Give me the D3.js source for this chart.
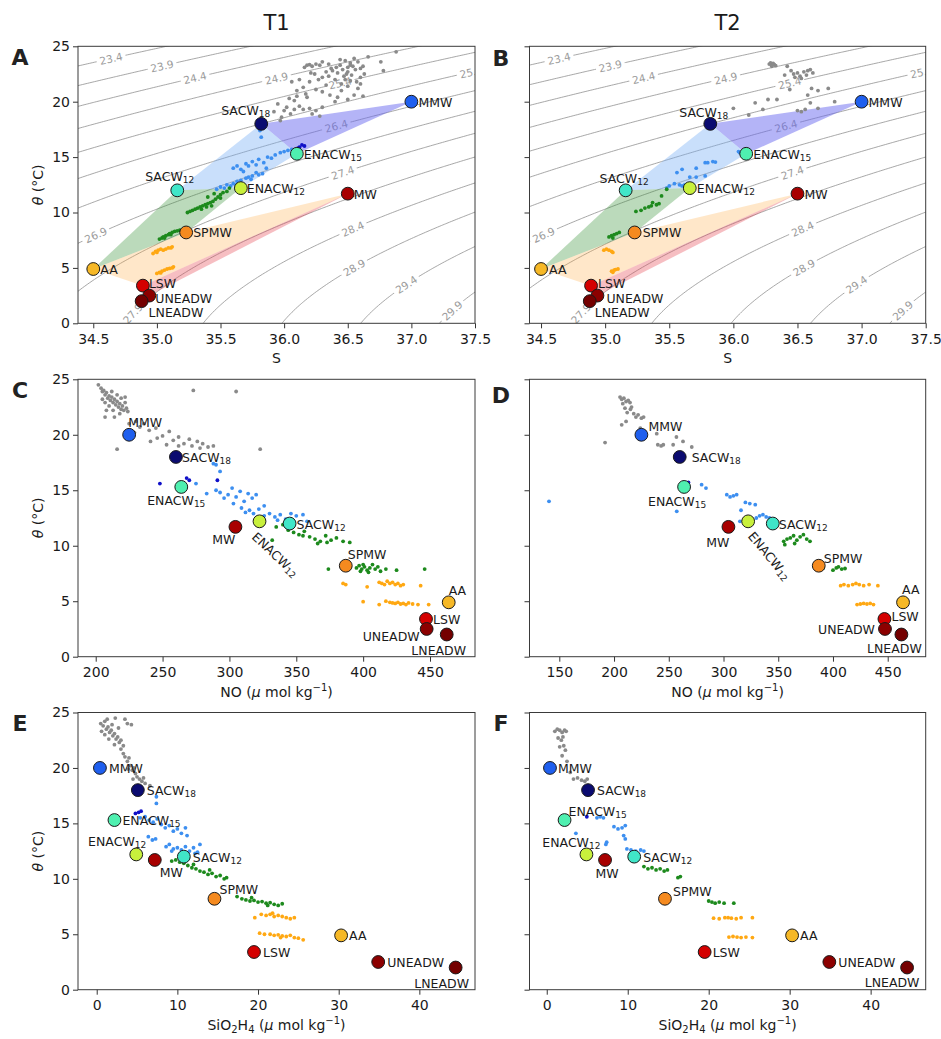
<!DOCTYPE html>
<html>
<head>
<meta charset="utf-8">
<script src="https://cdn.jsdelivr.net/npm/d3@7"></script>
<style>
  body { margin: 0; background: #fff; }
  text { font-family: "DejaVu Sans", sans-serif; }
</style>
</head>
<body>
<svg id="fig" width="941" height="1039"></svg>
<script>
// ---------------------------------------------------------------------------
// Source water masses (end-members)
// ---------------------------------------------------------------------------
const waterMasses = ["MMW", "SACW18", "ENACW15", "SACW12", "ENACW12", "MW",
                     "SPMW", "AA", "LSW", "UNEADW", "LNEADW"];
const wmTheta    = [20.0, 18.0, 15.3, 12.0, 12.2, 11.7, 8.2, 4.9, 3.4, 2.5, 2.0];
const wmSalinity = [37.00, 35.82, 36.10, 35.16, 35.66, 36.50, 35.23, 34.50, 34.89, 34.94, 34.88];
const wmNO       = [225, 260, 264, 345, 322.5, 304.5, 387, 464, 447, 447.5, 462.5];
const wmSilicate = [0.4, 5.1, 2.2, 10.8, 4.9, 7.2, 14.6, 30.3, 19.5, 34.9, 44.5];
const wmColors   = ["#1f5fee", "#0b0b70", "#4ff0b0", "#40e6c8", "#c8f03c", "#a80000",
                    "#f58a1f", "#f6b826", "#d40000", "#8c0000", "#740000"];

// mixing polygons in the theta-S plane (vertex = water mass)
const mixingPolygons = [
  ["SACW18", "MMW", "ENACW15"],
  ["SACW12", "SACW18", "ENACW15", "ENACW12"],
  ["AA", "SACW12", "ENACW12", "SPMW"],
  ["AA", "SPMW", "MW", "LSW"],
  ["LSW", "MW", "UNEADW"]
];
const mixingFills = ["rgba(105,105,240,0.5)", "rgba(120,175,245,0.4)", "rgba(60,150,60,0.35)",
                     "rgba(255,170,60,0.28)", "rgba(230,70,80,0.35)"];

// isopycnals (sigma-theta) and the salinity where each label sits
const isoLevels  = [23.4, 23.9, 24.4, 24.9, 25.4, 25.9, 26.4, 26.9, 27.4, 27.9, 28.4, 28.9, 29.4, 29.9];
const isoLabelS  = [34.64, 35.04, 35.30, 35.94, 36.44, 37.47, 36.41, 34.52, 36.46, 34.81, 36.54, 36.55, 36.96, 37.32];

// tick values
const salTicks   = [34.5, 35.0, 35.5, 36.0, 36.5, 37.0, 37.5];
const noTicksT1  = [200, 250, 300, 350, 400, 450];
const noTicksT2  = [150, 200, 250, 300, 350, 400, 450];
const siTicks    = [0, 10, 20, 30, 40];
const thetaTicks = [0, 5, 10, 15, 20, 25];

// sample groups
const sampleGroups = ["surface", "central", "enacw", "intermediate", "deep"];
const sampleColors = ["#8a8a8a", "#3d8ff0", "#1010c8", "#1d8a1d", "#ffa812"];

// ---------------------------------------------------------------------------
// Samples, period T1
// ---------------------------------------------------------------------------
const T1_SAL = {
  surface: [[36.66,24.05],[36.76,23.6],[36.88,24.5],[36.78,22.8],[36.62,23.2],[36.58,23.6],[36.55,23.9],
    [36.52,23.5],[36.5,23.1],[36.48,23.7],[36.46,22.9],[36.44,23.3],[36.42,22.6],[36.47,22.3],[36.5,22.7],
    [36.53,22.4],[36.56,22.9],[36.6,22.2],[36.57,21.8],[36.52,21.9],[36.45,21.6],[36.4,22.0],[36.38,22.8],
    [36.35,23.4],[36.3,23.6],[36.28,23.3],[36.25,23.4],[36.22,23.2],[36.2,23.35],[36.18,23.3],[36.16,23.1],
    [36.24,22.5],[36.3,22.2],[36.2,21.8],[36.15,21.3],[36.1,21.0],[36.25,21.1],[36.33,21.5],[36.36,20.6],
    [36.42,20.4],[36.5,20.2],[36.55,20.6],[36.58,21.2],[36.62,20.5],[36.4,20.0],[36.3,20.9],[36.18,20.4],
    [36.08,20.1],[36.12,19.6],[36.02,19.5],[35.95,19.8],[35.92,19.1],[35.97,18.3],[36.0,19.2],[36.08,19.3],
    [36.15,19.3],[36.2,19.4],[36.25,19.2],[36.28,18.7],[36.22,18.9],[36.05,18.9],[35.98,18.6],[36.3,19.5],
    [36.45,21.0],[36.35,22.3],[36.48,22.0],[36.54,23.2],[36.6,23.0],[36.63,22.5],[36.44,23.8],[36.37,23.0],
    [36.33,22.7],[36.27,22.0],[36.21,22.6],[36.12,22.0],[36.06,21.8],[36.17,20.7],[36.1,20.5],[36.04,20.3],
    [36.5,21.4],[36.6,21.6],[36.52,23.3],[36.49,22.5],[36.41,23.1]],
  central: [[35.47,12.1],[35.5,12.3],[35.53,12.2],[35.55,12.5],[35.58,12.4],[35.6,12.6],[35.63,12.8],
    [35.62,12.5],[35.66,12.9],[35.7,13.1],[35.72,13.2],[35.75,13.3],[35.78,13.6],[35.8,13.4],[35.83,13.5],
    [35.6,14.0],[35.63,14.2],[35.66,13.9],[35.7,14.4],[35.72,14.2],[35.75,14.6],[35.78,14.3],[35.8,14.8],
    [35.84,14.5],[35.87,15.0],[35.9,14.9],[35.93,15.2],[35.97,15.4],[36.0,15.5],[36.03,15.6],[36.06,15.7],
    [35.81,17.4],[35.82,16.8],[35.83,17.7],[35.68,13.7],[35.74,13.0],[35.86,14.0]],
  enacw: [[36.12,15.9],[36.14,16.1],[36.16,16.0],[36.11,15.8]],
  intermediate: [[35.02,7.6],[35.04,7.7],[35.05,7.8],[35.07,7.9],[35.09,8.0],[35.1,8.1],[35.12,8.2],
    [35.14,8.3],[35.16,8.35],[35.18,8.4],[35.06,7.7],[35.11,8.0],[35.24,10.0],[35.26,10.1],[35.28,10.2],
    [35.3,10.3],[35.32,10.4],[35.34,10.5],[35.36,10.6],[35.38,10.7],[35.4,10.8],[35.42,10.9],[35.44,11.0],
    [35.46,11.2],[35.35,10.3],[35.39,10.5],[35.43,10.6],[35.48,11.4],[35.5,11.6],[35.52,11.8],[35.55,11.9],
    [35.57,12.2],[35.4,11.4],[35.5,11.3],[35.45,11.7]],
  deep: [[34.97,6.3],[34.99,6.5],[35.01,6.6],[35.03,6.7],[35.05,6.6],[35.07,6.7],[35.09,6.8],[35.11,6.8],
    [35.12,6.9],[35.0,6.4],[35.0,4.5],[35.02,4.6],[35.04,4.7],[35.06,4.8],[35.08,4.9],[35.1,4.95],
    [35.12,5.0],[35.13,5.1],[35.03,4.55]]
};

const T1_NO = {
  surface: [[202,24.5],[204,24.2],[205,23.9],[206,24.0],[207,23.6],[208,23.8],[209,23.3],[210,23.5],
    [211,23.1],[212,23.4],[213,22.9],[214,23.2],[215,22.7],[216,23.0],[217,22.5],[218,22.8],[219,22.3],
    [220,22.6],[221,22.2],[222,22.9],[223,22.4],[224,22.1],[210,22.6],[213,22.2],[207,22.9],[216,23.6],
    [219,23.3],[205,23.2],[208,22.2],[212,23.9],[218,21.9],[222,23.4],[207,21.6],[214,21.6],[225,21.0],
    [230,21.2],[233,20.7],[236,21.0],[240,20.4],[245,20.6],[246,19.7],[250,19.9],[255,20.3],[258,19.5],
    [262,19.8],[266,19.2],[270,19.6],[272,19.0],[276,19.4],[280,19.2],[284,18.9],[288,19.0],[253,19.1],
    [262,19.0],[278,18.8],[216,18.7],[273,24.0],[305,23.9],[323,18.7],[241,19.4],[229,20.2]],
  central: [[288,17.4],[290,17.3],[293,16.7],[275,15.6],[283,14.7],[290,15.0],[293,14.8],[296,14.3],
    [299,14.6],[302,15.2],[305,14.4],[308,14.9],[311,14.0],[314,14.7],[317,14.3],[320,14.6],[303,13.8],
    [309,13.4],[315,13.2],[318,12.9],[322,13.3],[326,13.6],[330,12.9],[334,12.6],[338,12.8],[342,12.4],
    [346,12.9],[350,12.7],[355,12.8],[358,12.2],[312,13.0],[326,12.7],[336,12.3]],
  enacw: [[248,15.6],[268,16.1],[270,15.9],[291,15.9]],
  intermediate: [[335,11.7],[340,11.9],[344,11.4],[348,11.2],[352,11.0],[356,11.3],[360,10.8],[364,10.6],
    [368,10.4],[372,10.9],[376,10.5],[380,10.7],[385,10.4],[390,10.3],[332,10.5],[355,10.9],[366,10.2],
    [373,10.3],[395,8.0],[397,8.2],[399,7.9],[401,8.1],[403,7.8],[405,8.0],[407,8.3],[409,7.9],[411,8.1],
    [413,7.7],[398,7.7],[404,7.6],[400,8.3],[374,7.9],[417,7.9],[425,7.8],[446,7.9]],
  deep: [[385,6.6],[387,6.5],[403,6.3],[412,6.7],[414,6.6],[416,6.5],[418,6.8],[420,6.6],[422,6.7],
    [424,6.5],[426,6.6],[428,6.4],[430,6.5],[443,6.4],[400,4.96],[412,4.7],[417,5.0],[420,4.9],[422,4.85],
    [424,4.8],[426,4.9],[428,4.75],[430,4.8],[432,4.7],[434,4.85],[437,4.75],[441,4.7],[449,4.7]]
};

const T1_SI = {
  surface: [[0.5,24.0],[0.8,23.8],[1.0,24.2],[1.2,23.5],[1.4,23.7],[1.6,23.2],[1.8,23.4],[2.0,22.9],
    [2.2,23.1],[2.4,22.6],[2.6,22.8],[2.8,22.3],[3.0,22.5],[1.0,23.0],[1.5,22.6],[0.6,23.3],[2.2,22.1],
    [1.3,24.4],[3.3,22.0],[1.9,23.9],[2.7,23.6],[3.5,24.4],[2.3,24.5],[4.3,23.9],[3.8,24.0],[3.0,21.7],
    [3.3,21.3],[3.5,21.0],[3.8,20.6],[4.0,20.9],[4.2,20.2],[4.4,19.8],[4.6,20.0],[4.8,19.5],[5.0,19.2],
    [5.3,19.0],[5.6,18.8],[6.0,18.6],[6.6,18.4],[3.9,19.9],[4.5,19.0],[5.8,19.1]],
  central: [[7.4,17.4],[7.4,16.8],[5.4,15.5],[6.0,15.6],[6.5,15.3],[7.0,15.1],[7.5,15.4],[8.0,14.9],
    [8.5,14.6],[9.0,14.8],[9.5,14.3],[10.0,14.5],[10.5,14.1],[11.0,14.6],[11.2,13.9],[6.4,13.8],[6.9,13.5],
    [7.3,13.6],[8.6,12.9],[9.0,13.1],[9.5,12.7],[10.0,12.8],[10.5,12.6],[11.0,12.9],[11.5,12.5],[12.0,12.8],
    [12.5,12.4],[12.8,13.1],[12.2,12.3],[9.3,12.5]],
  enacw: [[5.2,16.0],[4.8,15.9],[5.5,16.1]],
  intermediate: [[9.3,11.6],[9.8,11.7],[10.3,11.5],[10.8,11.4],[11.3,11.2],[11.8,11.0],[12.3,10.9],
    [12.8,10.7],[13.3,10.6],[13.8,10.4],[14.3,10.5],[14.8,10.2],[15.3,10.3],[15.8,10.0],[16.1,10.1],
    [12.0,11.3],[14.0,10.8],[17.4,8.4],[18.0,8.2],[18.5,8.1],[19.0,8.0],[19.5,8.05],[20.0,7.9],[20.5,7.95],
    [21.0,7.8],[21.5,7.85],[22.0,7.7],[22.5,7.6],[23.0,7.75],[19.2,8.3],[21.2,7.6]],
  deep: [[19.6,6.5],[20.4,6.8],[21.0,6.7],[21.5,6.8],[22.0,6.6],[22.5,6.7],[23.0,6.6],[23.5,6.5],
    [24.0,6.4],[24.5,6.5],[21.8,6.9],[20.2,5.1],[20.8,5.0],[21.5,5.0],[22.0,4.9],[22.5,4.95],[23.0,4.85],
    [23.5,4.8],[24.0,4.9],[24.5,4.7],[25.0,4.65],[25.6,4.5],[22.8,4.7]]
};

// ---------------------------------------------------------------------------
// Samples, period T2
// ---------------------------------------------------------------------------
const T2_SAL = {
  surface: [[36.28,23.4],[36.29,23.5],[36.3,23.3],[36.31,23.45],[36.32,23.35],[36.33,23.25],[36.3,23.2],
    [36.42,23.2],[36.45,22.8],[36.47,22.5],[36.5,22.6],[36.52,22.3],[36.55,22.7],[36.57,22.4],[36.6,22.9],
    [36.62,22.6],[36.48,22.2],[36.53,22.1],[36.44,21.1],[36.61,21.2],[36.66,21.0],[36.74,21.2],[36.58,20.6],
    [36.6,19.9],[36.79,20.0],[36.66,19.4],[36.5,19.2],[36.53,19.1],[36.56,19.3],[36.0,19.4],[36.12,18.8],
    [36.17,19.9],[36.23,19.3],[36.27,20.2],[36.34,20.2],[36.4,22.4],[36.58,22.8]],
  central: [[35.5,12.4],[35.54,12.6],[35.58,12.5],[35.6,12.4],[35.62,12.5],[35.56,13.6],[35.6,13.9],
    [35.71,14.0],[35.71,13.2],[35.78,14.5],[35.8,14.5],[35.84,14.6],[35.86,14.55],[35.78,13.3],[35.66,13.2],
    [36.05,15.4],[36.04,15.5],[35.48,12.2]],
  enacw: [],
  intermediate: [[35.48,12.1],[35.44,11.5],[35.24,10.1],[35.28,10.2],[35.31,10.4],[35.34,10.5],[35.37,10.9],
    [35.4,10.7],[35.42,10.8],[35.36,10.6],[35.03,7.8],[35.05,7.9],[35.07,8.0],[35.09,8.1],[35.11,8.2],
    [35.06,7.7]],
  deep: [[34.99,6.6],[35.01,6.7],[35.03,6.6],[35.05,6.5],[35.06,6.4],[35.05,4.7],[35.07,4.8],[35.08,4.85],
    [35.1,4.9],[35.06,4.6]]
};

const T2_NO = {
  surface: [[205.5,23.4],[207,23.2],[209,23.3],[211,23.0],[213,23.1],[214.6,22.9],[208,22.8],[210,22.4],
    [212,22.0],[215,22.3],[218,21.9],[220,21.6],[222,21.8],[225,21.5],[227,21.6],[207,20.9],[211,21.2],
    [191.8,19.3],[239,20.1],[240,19.1],[243,19.0],[245,19.1],[254,19.1],[257,19.8],[263,19.4],[271,18.9],
    [224,20.6],[216,22.5]],
  central: [[140.6,14.0],[257.3,13.1],[280,15.5],[284,15.2],[303,14.6],[306,14.4],[309,14.5],[312,14.6],
    [320,13.9],[324,13.8],[329,13.7],[316,13.2],[330,12.5],[333,12.7],[336,12.8],[339,12.6],[315,12.2],
    [342,12.5],[326,12.4]],
  enacw: [[268,15.7]],
  intermediate: [[355,10.4],[358,10.6],[361,10.7],[364,10.9],[367,10.5],[370,10.8],[373,11.0],[376,10.6],
    [379,10.4],[356,10.1],[365,10.2],[391,8.0],[400,7.8],[403,8.0],[405,8.1],[408,7.9],[411,7.95]],
  deep: [[407,6.4],[410,6.5],[414,6.4],[418,6.5],[421,6.6],[424,6.5],[428,6.4],[433,6.5],[441,6.4],
    [422,4.7],[425,4.75],[428,4.8],[431,4.75],[434,4.8],[437,4.7]]
};

const T2_SI = {
  surface: [[1.0,23.3],[1.3,23.5],[1.6,23.4],[1.9,23.2],[2.2,23.4],[2.4,23.3],[1.4,22.7],[1.8,22.5],
    [2.1,22.0],[2.3,21.6],[1.6,21.9],[1.9,21.1],[2.5,20.6],[2.9,19.6],[3.3,19.0],[3.8,19.1],[4.3,18.9],
    [5.0,19.0],[4.7,18.8],[2.0,22.8]],
  central: [[6.2,15.5],[6.6,15.6],[7.0,15.5],[8.3,14.7],[8.8,14.5],[9.3,14.6],[9.7,14.8],[3.6,14.1],
    [7.4,13.3],[7.3,13.1],[9.9,12.7],[10.4,12.6],[11.0,12.5],[11.6,12.6],[12.0,12.5],[9.5,13.9],[9.7,13.6]],
  enacw: [[4.95,15.6]],
  intermediate: [[12.0,11.1],[12.5,10.9],[13.0,11.0],[13.5,10.8],[14.0,10.9],[14.5,10.7],[14.9,10.8],
    [16.5,10.2],[16.2,10.1],[20.0,8.0],[20.4,7.9],[20.8,7.8],[21.3,7.9],[21.9,7.8],[23.1,7.8]],
  deep: [[20.6,6.45],[21.3,6.4],[22.0,6.5],[22.4,6.5],[22.8,6.45],[23.4,6.4],[24.0,6.5],[25.4,6.5],
    [22.5,4.75],[23.0,4.8],[23.5,4.75],[24.0,4.7],[24.6,4.75],[25.4,4.7]]
};

// ---------------------------------------------------------------------------
// Label placement for each panel: [dx, dy, anchor, rotation]
// ---------------------------------------------------------------------------
const labelsA = { MMW:[7,0,"start"], SACW18:[9,-14,"end"], ENACW15:[7,0,"start"], SACW12:[17,-14,"end"],
  ENACW12:[6,0,"start"], MW:[6,0,"start"], SPMW:[7,0,"start"], AA:[7,0,"start"], LSW:[6,-3,"start"],
  UNEADW:[6,2,"start"], LNEADW:[7,11,"start"] };
const labelsB = { MMW:[7,0,"start"], SACW18:[18,-12,"end"], ENACW15:[7,0,"start"], SACW12:[23,-12,"end"],
  ENACW12:[7,0,"start"], MW:[7,0,"start"], SPMW:[8,0,"start"], AA:[8,0,"start"], LSW:[7,-3,"start"],
  UNEADW:[9,2,"start"], LNEADW:[5,11,"start"] };
const labelsC = { MMW:[-1,-13,"start"], SACW18:[6,0,"start"], ENACW15:[-5,13,"middle"], SACW12:[7,0,"start"],
  ENACW12:[-5,13,"start",43], MW:[0,12,"end"], SPMW:[2,-12,"start"], AA:[0,-12,"start"], LSW:[7,0,"start"],
  UNEADW:[-7,7,"end"], LNEADW:[-8,15,"middle"] };
const labelsD = { MMW:[7,-9,"start"], SACW18:[12,0,"start"], ENACW15:[-7,14,"middle"], SACW12:[6,0,"start"],
  ENACW12:[3,12,"start",50], MW:[1,15,"end"], SPMW:[5,-8,"start"], AA:[-1,-13,"start"], LSW:[7,-3,"start"],
  UNEADW:[-10,0,"end"], LNEADW:[-7,13,"middle"] };
const labelsE = { MMW:[9,0,"start"], SACW18:[9,0,"start"], ENACW15:[8,0,"start"], SACW12:[9,0,"start"],
  ENACW12:[10,-13,"end"], MW:[5,12,"start"], SPMW:[5,-10,"start"], AA:[8,0,"start"], LSW:[9,0,"start"],
  UNEADW:[9,0,"start"], LNEADW:[-14,15,"middle"] };
const labelsF = { MMW:[8,0,"start"], SACW18:[9,0,"start"], ENACW15:[4,-9,"start"], SACW12:[9,0,"start"],
  ENACW12:[14,-12,"end"], MW:[2,13,"middle"], SPMW:[8,-8,"start"], AA:[8,0,"start"], LSW:[8,0,"start"],
  UNEADW:[9,0,"start"], LNEADW:[-15,14,"middle"] };

// ---------------------------------------------------------------------------
// Panel geometry
// ---------------------------------------------------------------------------
const cols = [{ left: 78, right: 475 }, { left: 529.5, right: 925.7 }];
const rows = [{ top: 46.3, bottom: 323.3 }, { top: 379.3, bottom: 656.7 }, { top: 712.5, bottom: 989.7 }];

const panels = [
  { key: "A", col: 0, row: 0, samples: T1_SAL, wm: wmSalinity, xDomain: [34.38, 37.5], ticks: salTicks,
    fmt: d3.format(".1f"), xLabel: "S", iso: true, labels: labelsA, letterY: 64.5 },
  { key: "B", col: 1, row: 0, samples: T2_SAL, wm: wmSalinity, xDomain: [34.41, 37.5], ticks: salTicks,
    fmt: d3.format(".1f"), xLabel: "S", iso: true, labels: labelsB, letterY: 65.5 },
  { key: "C", col: 0, row: 1, samples: T1_NO, wm: wmNO, xDomain: [186.76, 483.65], ticks: noTicksT1,
    fmt: d3.format("d"), xLabel: "NO", labels: labelsC, letterY: 397.5 },
  { key: "D", col: 1, row: 1, samples: T2_NO, wm: wmNO, xDomain: [122.78, 484.7], ticks: noTicksT2,
    fmt: d3.format("d"), xLabel: "NO", labels: labelsD, letterY: 403 },
  { key: "E", col: 0, row: 2, samples: T1_SI, wm: wmSilicate, xDomain: [-2.32, 46.9], ticks: siTicks,
    fmt: d3.format("d"), xLabel: "SI", labels: labelsE, letterY: 730.5 },
  { key: "F", col: 1, row: 2, samples: T2_SI, wm: wmSilicate, xDomain: [-2.13, 46.8], ticks: siTicks,
    fmt: d3.format("d"), xLabel: "SI", labels: labelsF, letterY: 730.5 }
];

// potential density anomaly at the surface (UNESCO EOS-80, p = 0)
function sigma0(S, T) {
  const rw = 999.842594 + 6.793952e-2 * T - 9.095290e-3 * T * T + 1.001685e-4 * T ** 3
           - 1.120083e-6 * T ** 4 + 6.536332e-9 * T ** 5;
  const A = 0.824493 - 4.0899e-3 * T + 7.6438e-5 * T * T - 8.2467e-7 * T ** 3 + 5.3875e-9 * T ** 4;
  const B = -5.72466e-3 + 1.0227e-4 * T - 1.6546e-6 * T * T;
  const C = 4.8314e-4;
  return rw + A * S + B * Math.pow(S, 1.5) + C * S * S - 1000;
}
// temperature on a given isopycnal at salinity S (sigma decreases with T here)
function thetaOnIsopycnal(S, level) {
  let lo = -3, hi = 35;
  for (let k = 0; k < 60; k++) {
    const mid = (lo + hi) / 2;
    if (sigma0(S, mid) > level) lo = mid; else hi = mid;
  }
  return (lo + hi) / 2;
}

const svg = d3.select("#fig");
const defs = svg.append("defs");
const TEXT = "#1a1a1a";

function drawIsopycnals(plot, x, y, key) {
  const S0 = 34.1, S1 = 37.8, T0 = -1.5, T1 = 26.5;
  const nx = 200, ny = 180;
  const dS = (S1 - S0) / (nx - 1), dT = (T1 - T0) / (ny - 1);
  const values = new Array(nx * ny);
  for (let j = 0; j < ny; j++)
    for (let i = 0; i < nx; i++) values[j * nx + i] = sigma0(S0 + i * dS, T0 + j * dT);
  const contours = d3.contours().size([nx, ny]).thresholds(isoLevels)(values);
  const toPx = p => [x(S0 + (p[0] - 0.5) * dS), y(T0 + (p[1] - 0.5) * dT)];

  // mask that opens gaps in the lines behind the inline labels
  const mask = defs.append("mask").attr("id", "gap" + key)
    .attr("maskUnits", "userSpaceOnUse").attr("x", 0).attr("y", 0).attr("width", 941).attr("height", 1039);
  mask.append("rect").attr("width", 941).attr("height", 1039).attr("fill", "white");

  const lines = plot.append("g").attr("mask", `url(#gap${key})`);
  contours.forEach(c => {
    let d = "";
    c.coordinates.forEach(poly => poly.forEach(ring => {
      ring.forEach((p, i) => { const q = toPx(p); d += (i ? "L" : "M") + q[0].toFixed(2) + "," + q[1].toFixed(2); });
    }));
    lines.append("path").attr("d", d).attr("fill", "none").attr("stroke", "#8a8a8a").attr("stroke-width", 0.75);
  });

  const kx = x(1) - x(0), ky = y(0) - y(1);
  isoLevels.forEach((lev, i) => {
    const S = isoLabelS[i];
    const T = thetaOnIsopycnal(S, lev);
    const h = 1e-3;
    const dSig = (sigma0(S + h, T) - sigma0(S - h, T)) / (2 * h);
    const dTig = (sigma0(S, T + h) - sigma0(S, T - h)) / (2 * h);
    let tx = dTig / ky, ty = dSig / kx;
    if (tx < 0) { tx = -tx; ty = -ty; }
    const ang = Math.atan2(ty, tx) * 180 / Math.PI;
    const px = x(S), py = y(T);
    const label = lev.toFixed(1);
    const w = label.length * 6.1 + 5;
    mask.append("rect").attr("x", -w / 2).attr("y", -6).attr("width", w).attr("height", 12)
      .attr("transform", `translate(${px},${py}) rotate(${ang})`).attr("fill", "black");
    plot.append("text").attr("transform", `translate(${px},${py}) rotate(${ang})`)
      .attr("text-anchor", "middle").attr("dominant-baseline", "central")
      .attr("font-size", 10.5).attr("fill", "#9a9a9a").text(label);
  });
}

function waterMassLabel(g, name, mx, my, spec) {
  const [dx, dy, anchor, rot] = spec;
  const m = name.match(/^([A-Z]+)(\d*)$/);
  const t = g.append("text").attr("font-size", 12.5).attr("fill", TEXT)
    .attr("text-anchor", anchor).attr("dominant-baseline", "central");
  if (rot) t.attr("transform", `translate(${mx + dx},${my + dy}) rotate(${rot})`);
  else t.attr("x", mx + dx).attr("y", my + dy);
  t.append("tspan").text(m[1]);
  if (m[2]) t.append("tspan").attr("font-size", 9).attr("dy", 4).text(m[2]);
}

function xAxisLabel(g, kind, cx, by) {
  const t = g.append("text").attr("x", cx).attr("y", by).attr("text-anchor", "middle")
    .attr("font-size", 14).attr("fill", TEXT);
  if (kind === "S") { t.text("S"); return; }
  if (kind === "NO") {
    t.append("tspan").text("NO (");
  } else {
    t.append("tspan").text("SiO");
    t.append("tspan").attr("font-size", 10).attr("dy", 3).text("2");
    t.append("tspan").attr("dy", -3).text("H");
    t.append("tspan").attr("font-size", 10).attr("dy", 3).text("4");
    t.append("tspan").attr("dy", -3).text(" (");
  }
  t.append("tspan").attr("font-style", "italic").text("μ");
  t.append("tspan").text(" mol kg");
  t.append("tspan").attr("font-size", 10).attr("dy", -6).text("−1");
  t.append("tspan").attr("dy", 6).text(")");
}

panels.forEach(p => {
  const { left, right } = cols[p.col];
  const { top, bottom } = rows[p.row];
  const x = d3.scaleLinear().domain(p.xDomain).range([left, right]);
  const y = d3.scaleLinear().domain([0, 25]).range([bottom, top]);
  const g = svg.append("g");

  defs.append("clipPath").attr("id", "clip" + p.key).append("rect")
    .attr("x", left).attr("y", top).attr("width", right - left).attr("height", bottom - top);
  const plot = g.append("g").attr("clip-path", `url(#clip${p.key})`);

  if (p.iso) {
    drawIsopycnals(plot, x, y, p.key);
    mixingPolygons.forEach((poly, i) => {
      const pts = poly.map(n => { const k = waterMasses.indexOf(n); return [x(p.wm[k]), y(wmTheta[k])]; });
      plot.append("path").attr("d", "M" + pts.join("L") + "Z").attr("fill", mixingFills[i]).attr("stroke", "none");
    });
  }

  // samples
  sampleGroups.forEach((grp, gi) => {
    plot.append("g").selectAll("circle").data(p.samples[grp]).join("circle")
      .attr("cx", d => x(d[0])).attr("cy", d => y(d[1])).attr("r", 1.9)
      .attr("fill", sampleColors[gi]);
  });

  // end-members
  const em = g.append("g");
  waterMasses.forEach((n, k) => {
    em.append("circle").attr("cx", x(p.wm[k])).attr("cy", y(wmTheta[k])).attr("r", 6.4)
      .attr("fill", wmColors[k]).attr("stroke", "#1a1a1a").attr("stroke-width", 1);
  });
  waterMasses.forEach((n, k) => waterMassLabel(em, n, x(p.wm[k]), y(wmTheta[k]), p.labels[n]));

  // axes
  const xa = g.append("g").attr("transform", `translate(0,${bottom})`)
    .call(d3.axisBottom(x).tickValues(p.ticks).tickFormat(p.fmt).tickSize(5).tickPadding(5.5).tickSizeOuter(0));
  const ya = g.append("g").attr("transform", `translate(${left},0)`)
    .call(d3.axisLeft(y).tickValues(thetaTicks).tickSize(5).tickPadding(3).tickSizeOuter(0)
      .tickFormat(p.col === 0 ? d3.format("d") : () => ""));
  [xa, ya].forEach(a => {
    a.select(".domain").remove();
    a.selectAll(".tick line").attr("stroke", "#333").attr("stroke-width", 1);
    a.selectAll(".tick text").attr("font-size", 14).attr("fill", TEXT)
      .attr("font-family", "DejaVu Sans, sans-serif");
  });

  g.append("rect").attr("x", left).attr("y", top).attr("width", right - left).attr("height", bottom - top)
    .attr("fill", "none").attr("stroke", "#3a3a3a").attr("stroke-width", 1);

  xAxisLabel(g, p.xLabel, (left + right) / 2, bottom + 40);

  if (p.col === 0) {
    const yl = g.append("text").attr("transform", `translate(38,${(top + bottom) / 2}) rotate(-90)`)
      .attr("text-anchor", "middle").attr("dominant-baseline", "central")
      .attr("font-size", 14).attr("fill", TEXT);
    yl.append("tspan").attr("font-style", "italic").text("θ");
    yl.append("tspan").text(" (°C)");
  }

  svg.append("text").attr("x", p.col === 0 ? 20 : 501).attr("y", p.letterY)
    .attr("text-anchor", "middle").attr("font-size", 22).attr("font-weight", "bold")
    .attr("fill", "#222").text(p.key);
});

// period titles
svg.append("text").attr("x", (cols[0].left + cols[0].right) / 2).attr("y", 30)
  .attr("text-anchor", "middle").attr("font-size", 21).attr("fill", TEXT).text("T1");
svg.append("text").attr("x", (cols[1].left + cols[1].right) / 2).attr("y", 30)
  .attr("text-anchor", "middle").attr("font-size", 21).attr("fill", TEXT).text("T2");
</script>
</body>
</html>
